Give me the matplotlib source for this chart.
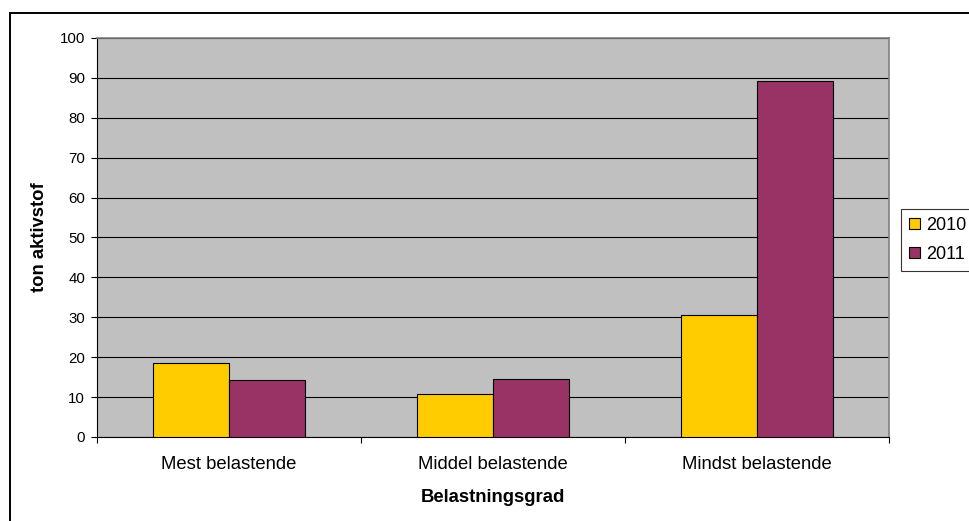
import matplotlib
matplotlib.use('Agg')
import matplotlib.pyplot as plt
import matplotlib.patches as patches
from matplotlib.ticker import FixedLocator
import numpy as np

# data
categories = ['Mest belastende', 'Middel belastende', 'Mindst belastende']
years = ['2010', '2011']
values_2010 = [18.5, 10.8, 30.6]
values_2011 = [14.4, 14.6, 89.2]
y_ticks = [0, 10, 20, 30, 40, 50, 60, 70, 80, 90, 100]

plt.rcParams['font.family'] = ['Liberation Sans', 'DejaVu Sans']

W, H = 969, 521
fig = plt.figure(figsize=(W / 100, H / 100), dpi=100)
fig.patch.set_facecolor('white')

# plot area in pixels: left 97, right 889, top 38, bottom 437
ax = fig.add_axes([97 / W, 1 - 437 / H, (889 - 97) / W, (437 - 38) / H])
ax.set_facecolor('#C0C0C0')

x = np.arange(len(categories))
bw = 0.288
ax.bar(x - bw / 2, values_2010, bw, color='#FFCC00', edgecolor='black', linewidth=0.8, label=years[0], zorder=3)
ax.bar(x + bw / 2, values_2011, bw, color='#993366', edgecolor='black', linewidth=0.8, label=years[1], zorder=3)

ax.set_xlim(-0.5, len(categories) - 0.5)
ax.set_ylim(0, 100)
ax.set_yticks(y_ticks)
ax.yaxis.grid(True, color='black', linewidth=0.8, zorder=1)
ax.set_axisbelow(True)

ax.set_xticks(x)
ax.set_xticklabels(categories, fontsize=13.3)
ax.xaxis.set_minor_locator(FixedLocator(np.arange(len(categories) + 1) - 0.5))
ax.tick_params(axis='x', which='major', length=0, pad=14)
ax.tick_params(axis='x', which='minor', length=4, width=0.8, direction='out')
ax.tick_params(axis='y', length=4.5, width=0.8, direction='out', pad=4, labelsize=10.8)

for s in ['top', 'right']:
    ax.spines[s].set_color('#808080')
    ax.spines[s].set_linewidth(1.2)
for s in ['left', 'bottom']:
    ax.spines[s].set_color('black')
    ax.spines[s].set_linewidth(0.8)

ax.set_xlabel('Belastningsgrad', fontsize=13.3, fontweight='bold')
ax.xaxis.set_label_coords(0.5, -(498 - 437) / 399)
ax.xaxis.label.set_va('center')
ax.set_ylabel('ton aktivstof', fontsize=13.3, fontweight='bold')
ax.yaxis.set_label_coords((40 - 97) / 792, 0.5)
ax.yaxis.label.set_va('center')

leg = ax.legend(loc='upper left', bbox_to_anchor=(901 / W, 1 - 209 / H),
                bbox_transform=fig.transFigure, borderaxespad=0,
                fontsize=13, frameon=True, fancybox=False,
                handlelength=0.6, handleheight=0.6, handletextpad=0.35,
                labelspacing=0.65, borderpad=0.45)
leg.get_frame().set_edgecolor('black')
leg.get_frame().set_linewidth(0.8)

# outer chart border
border = patches.Rectangle((10 / W, -0.1), 1.2, 1.1 - 13 / H, transform=fig.transFigure,
                           fill=False, edgecolor='black', linewidth=1.4, clip_on=False)
fig.patches.append(border)

fig.savefig('out.png', dpi=100)
